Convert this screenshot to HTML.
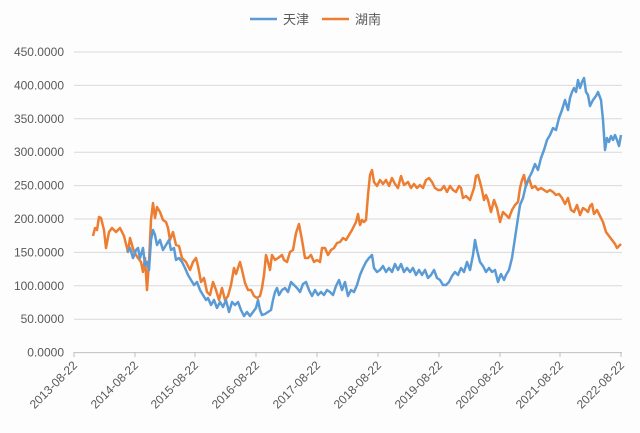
<!DOCTYPE html><html><head><meta charset="utf-8"><style>body{margin:0;background:#fff}svg{display:block}text{font-family:"Liberation Sans","Noto Sans CJK SC",sans-serif;fill:#595959;font-size:12px}</style></head><body>
<svg width="640" height="433" viewBox="0 0 640 433">
<rect width="640" height="433" fill="#fdfdfd"/>
<g stroke="#d9d9d9" stroke-width="1">
<line x1="74" x2="622" y1="52" y2="52"/><line x1="74" x2="622" y1="85.4" y2="85.4"/><line x1="74" x2="622" y1="118.8" y2="118.8"/><line x1="74" x2="622" y1="152.2" y2="152.2"/><line x1="74" x2="622" y1="185.6" y2="185.6"/><line x1="74" x2="622" y1="219" y2="219"/><line x1="74" x2="622" y1="252.4" y2="252.4"/><line x1="74" x2="622" y1="285.8" y2="285.8"/><line x1="74" x2="622" y1="319.2" y2="319.2"/><line x1="74" x2="622" y1="352.6" y2="352.6" stroke="#bfbfbf"/>
<g stroke="#bfbfbf"><line x1="74" x2="74" y1="352" y2="357"/><line x1="135" x2="135" y1="352" y2="357"/><line x1="195" x2="195" y1="352" y2="357"/><line x1="256" x2="256" y1="352" y2="357"/><line x1="317" x2="317" y1="352" y2="357"/><line x1="378" x2="378" y1="352" y2="357"/><line x1="439" x2="439" y1="352" y2="357"/><line x1="500" x2="500" y1="352" y2="357"/><line x1="560" x2="560" y1="352" y2="357"/><line x1="621" x2="621" y1="352" y2="357"/></g>
</g>
<g text-anchor="end">
<text x="64" y="56">450.0000</text><text x="64" y="89.4">400.0000</text><text x="64" y="122.8">350.0000</text><text x="64" y="156.2">300.0000</text><text x="64" y="189.6">250.0000</text><text x="64" y="223">200.0000</text><text x="64" y="256.4">150.0000</text><text x="64" y="289.8">100.0000</text><text x="64" y="323.2">50.0000</text><text x="64" y="356.6">0.0000</text>
<text transform="translate(78,366) rotate(-45)">2013-08-22</text><text transform="translate(139,366) rotate(-45)">2014-08-22</text><text transform="translate(199,366) rotate(-45)">2015-08-22</text><text transform="translate(260,366) rotate(-45)">2016-08-22</text><text transform="translate(321,366) rotate(-45)">2017-08-22</text><text transform="translate(382,366) rotate(-45)">2018-08-22</text><text transform="translate(443,366) rotate(-45)">2019-08-22</text><text transform="translate(504,366) rotate(-45)">2020-08-22</text><text transform="translate(564,366) rotate(-45)">2021-08-22</text><text transform="translate(625,366) rotate(-45)">2022-08-22</text>
</g>
<line x1="250" x2="277" y1="19" y2="19" stroke="#5b9bd5" stroke-width="2.5"/><text x="283" y="24" style="font-size:13px">天津</text>
<line x1="322" x2="349" y1="19" y2="19" stroke="#ed7d31" stroke-width="2.5"/><text x="355" y="24" style="font-size:13px">湖南</text>
<polyline fill="none" stroke="#ed7d31" stroke-width="2.5" stroke-linejoin="round" points="93,236 95,228 97,230 99,217 101,218 104,230 106,248 109,232 112,228 116,232 120,228 124,236 128,252 130,238 134,252 138,258 141,262 143,272 145,258 147,290 149,262 151,220 153,203 155,218 157,207 160,212 163,220 166,222 168,228 170,240 173,232 176,245 179,246 182,258 186,262 190,270 193,262 196,258 198,266 201,282 204,278 207,292 210,295 213,282 216,290 219,300 222,288 225,300 228,296 231,285 234,268 236,274 238,268 240,262 242,270 245,283 248,290 251,290 254,296 257,298 260,296 262,288 264,275 266,255 268,262 270,270 272,255 275,260 278,258 282,255 284,260 287,262 290,252 293,250 296,233 299,224 302,240 305,258 308,258 311,255 314,262 317,260 320,262 322,248 325,248 328,255 331,250 334,248 337,243 340,242 343,238 346,240 349,235 352,230 356,222 358,214 360,225 362,220 364,222 366,220 368,195 370,175 372,170 374,182 377,186 380,180 383,184 386,180 389,186 392,178 395,184 398,188 401,176 404,185 408,182 411,188 414,184 417,188 420,185 423,188 426,180 429,178 432,182 435,188 438,190 441,190 444,186 447,192 450,186 453,190 456,192 459,186 461,188 463,198 466,196 470,200 474,188 476,176 478,175 480,182 482,190 484,200 486,195 488,200 491,212 494,200 497,208 500,222 503,212 506,215 509,218 512,210 515,205 518,202 520,188 522,180 524,175 526,186 529,178 532,188 535,186 538,190 541,188 544,190 547,192 550,190 553,192 556,195 559,194 562,198 565,204 568,198 571,210 574,212 577,205 580,215 583,208 586,210 588,212 590,206 592,204 594,214 597,210 600,216 603,222 606,232 609,236 612,240 615,244 617,248 619,246 621,244"/>
<polyline fill="none" stroke="#5b9bd5" stroke-width="2.5" stroke-linejoin="round" points="127,252 130,248 133,258 136,250 138,248 140,258 143,248 145,265 147,262 149,270 151,240 153,230 155,235 157,245 160,240 163,250 166,245 169,240 171,250 174,248 176,260 179,258 182,262 185,268 188,275 191,280 194,285 197,282 200,290 203,295 206,300 208,298 211,305 214,300 217,308 220,302 223,307 226,300 229,312 232,302 235,305 238,302 241,310 244,316 247,312 250,316 253,312 256,308 258,300 260,310 262,315 265,314 268,312 271,310 273,300 275,292 277,288 279,295 282,290 285,288 288,292 291,282 294,285 297,288 300,292 303,284 306,282 309,290 312,296 315,290 318,295 321,292 324,295 327,290 330,292 333,295 336,286 339,280 342,290 345,282 348,296 351,290 354,292 357,285 360,275 363,268 366,262 369,258 372,255 374,268 377,272 380,270 383,266 386,272 389,268 392,272 395,264 398,270 401,264 404,272 407,268 410,272 413,268 416,275 419,270 422,275 425,270 428,278 431,275 434,270 437,278 440,280 443,285 446,285 449,282 452,276 455,272 458,275 461,268 464,272 467,262 470,270 473,255 475,240 477,250 480,262 483,266 486,272 489,268 492,272 495,270 498,282 501,274 504,280 506,275 509,270 512,258 515,238 518,218 520,205 523,198 526,185 529,178 532,172 535,164 538,170 541,158 544,150 547,140 550,135 553,128 556,130 559,118 562,110 565,100 568,110 570,98 572,92 574,88 576,92 578,80 580,88 582,82 584,78 586,92 588,95 590,106 593,100 596,96 598,92 601,100 603,120 605,150 607,138 609,142 611,136 613,140 615,135 617,140 619,146 621,135"/>
</svg></body></html>
